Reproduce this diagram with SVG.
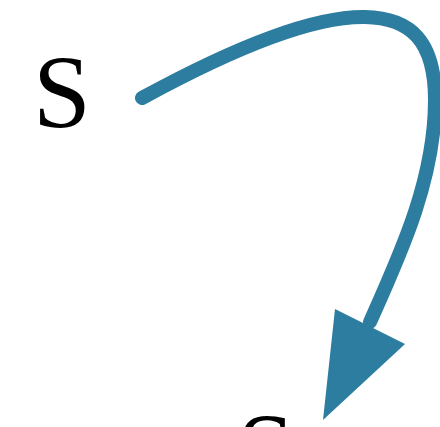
<svg xmlns="http://www.w3.org/2000/svg" width="440" height="427" viewBox="0 0 440 427">
<style>
.lbl{font-family:"Liberation Serif","DejaVu Serif",serif;font-size:104px;fill:#000}
.edge{fill:none;stroke:#2c7da0;stroke-width:14;stroke-linecap:round}
.head{fill:#2c7da0}
</style>
<rect width="440" height="427" fill="#fff"/>
<g id="node-s1"><text class="lbl" x="33" y="127">S</text></g>
<g id="node-s2"><text class="lbl" x="237" y="485">S</text></g>
<g id="connectors">
<path class="edge" d="M142,98 C230,50 310,16 365,17 C410,18 435,40 435,100 C435,180 400,255 370,322"/>
<polygon class="head" points="323,420 335,309 405,344"/>
</g>
</svg>
